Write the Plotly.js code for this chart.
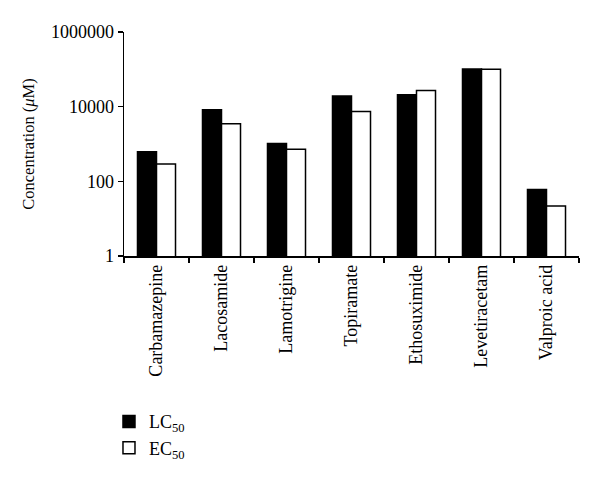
<!DOCTYPE html>
<html>
<head>
<meta charset="utf-8">
<script src="https://cdn.plot.ly/plotly-3.0.1.min.js"></script>
<style>html,body{margin:0;padding:0;background:#fff;}#chart{width:600px;height:477px;}</style>
</head>
<body>
<div id="chart"></div>
<script>
var drugs = ["Carbamazepine", "Lacosamide", "Lamotrigine", "Topiramate", "Ethosuximide", "Levetiracetam", "Valproic acid"];
var lc50 = [620, 8300, 1030, 19300, 21000, 102000, 60];
var ec50 = [290, 3500, 725, 7400, 27200, 100000, 22];
var yTickVals = [1, 100, 10000, 1000000];
var yTickText = ["1", "100", "10000", "1000000"];

var serif = "Liberation Serif, Times New Roman, serif";

var traces = [
  {type: "bar", name: "LC<sub>50</sub>", x: drugs, y: lc50,
   marker: {color: "#000000", line: {color: "#000000", width: 1.5}}},
  {type: "bar", name: "EC<sub>50</sub>", x: drugs, y: ec50,
   marker: {color: "#ffffff", line: {color: "#000000", width: 1.5}}}
];

var layout = {
  width: 600, height: 477,
  margin: {l: 124, r: 21, t: 32, b: 220},
  paper_bgcolor: "#ffffff", plot_bgcolor: "#ffffff",
  font: {family: serif, size: 18, color: "#000000"},
  barmode: "group",
  bargap: 0.415,
  bargroupgap: 0,
  showlegend: true,
  legend: {x: -0.033, y: -0.65, xanchor: "left", yanchor: "top",
           font: {family: serif, size: 18, color: "#000"}, tracegroupgap: 0,
           bgcolor: "rgba(0,0,0,0)"},
  xaxis: {
    type: "category",
    showline: true, linecolor: "#000", linewidth: 1.5,
    ticks: "outside", ticklen: 5, tickwidth: 1.5, tickcolor: "#000",
    tickson: "boundaries",
    tickangle: -90,
    showgrid: false, zeroline: false,
    tickfont: {family: serif, size: 18, color: "#000"}
  },
  yaxis: {
    type: "log", range: [0, 6],
    tickvals: yTickVals, ticktext: yTickText,
    showline: true, linecolor: "#000", linewidth: 1.5,
    ticks: "outside", ticklen: 5, tickwidth: 1.5, tickcolor: "#000",
    showgrid: false, zeroline: false,
    tickfont: {family: serif, size: 18, color: "#000"},
    title: {text: "Concentration (<i>μ</i>M)", font: {family: serif, size: 16.5, color: "#000"}, standoff: 12}
  }
};

Plotly.newPlot("chart", traces, layout, {displayModeBar: false, staticPlot: true});
</script>
</body>
</html>
